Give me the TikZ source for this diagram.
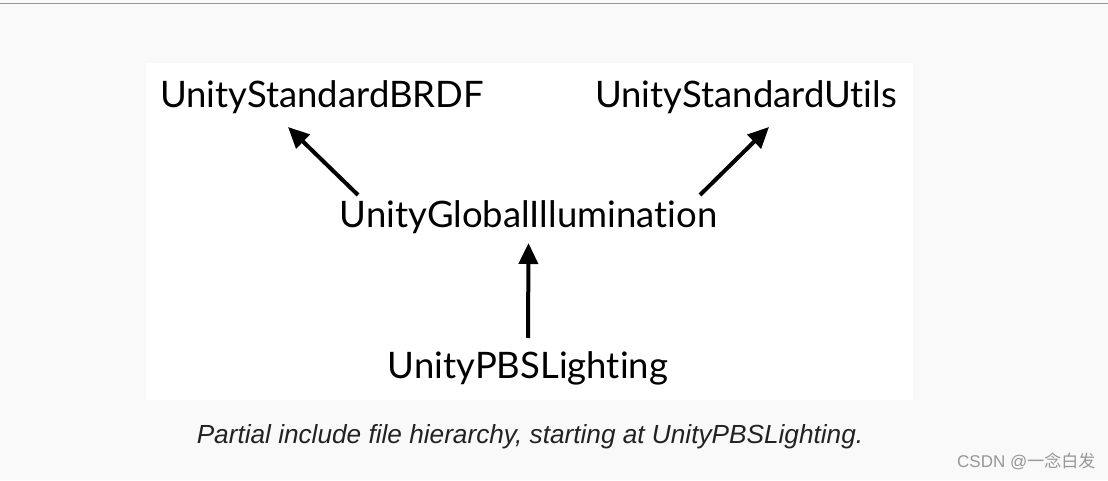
\documentclass[tikz,border=0pt]{standalone}
\usepackage{fontspec}
\setmainfont{Lato}[Ligatures={NoCommon,NoRequired}]
\newfontfamily\capfont{Liberation Sans}
\newfontfamily\cjk{Noto Sans CJK SC}
\usepackage{xcolor}
\usepackage{tikz}
\usetikzlibrary{arrows.meta,calc,positioning}
\definecolor{pagegray}{RGB}{249,249,249}
\definecolor{rulegray}{RGB}{150,150,150}
\definecolor{captext}{RGB}{34,34,34}
\definecolor{markgray}{RGB}{150,150,150}
\begin{document}
\begin{tikzpicture}[x=1pt,y=1pt,>=Triangle,
  file/.style={inner sep=0pt,anchor=base,font=\fontsize{36.5}{42}\selectfont},
  incl/.style={line width=4pt,-{Triangle[length=21pt,width=19pt]}}]
% ---------- page ----------
\fill[pagegray] (0,0) rectangle (1108,480);
\useasboundingbox (0,0) rectangle (1108,480);
\draw[rulegray,line width=1.2pt] (0,476.6)--(1108,476.6);
\fill[white] (146,80) rectangle (913,417);
% ---------- include files ----------
\node[file] (brdf) at (322,372) {UnityStandardBRDF};
\node[file] (utils) at (746,372) {UnityStandardUtils};
\node[file] (gi) at (528.5,252) {UnityGlobalIllumination};
\node[file] (pbs) at (528,102) {UnityPBSLighting};
% ---------- arrows ----------
\draw[incl] ([shift={(-170.5,33)}]gi.base) -- ([shift={(-34,-19)}]brdf.base);
\draw[incl] ([shift={(171.5,33)}]gi.base) -- ([shift={(23,-19)}]utils.base);
\draw[incl] ([yshift=40]pbs.base) -- ([yshift=-15]gi.base);
% ---------- caption ----------
\node[inner sep=0pt,anchor=base,text=captext,font=\capfont\itshape\fontsize{26.2}{31}\selectfont] (cap) at (530,37) {Partial include file hierarchy, starting at UnityPBSLighting.};
\node[inner sep=0pt,anchor=base west,text=markgray,font=\fontsize{17}{20}\selectfont] (mark) at (957,13) {\capfont CSDN @\cjk 一念白发};
\end{tikzpicture}
\end{document}
